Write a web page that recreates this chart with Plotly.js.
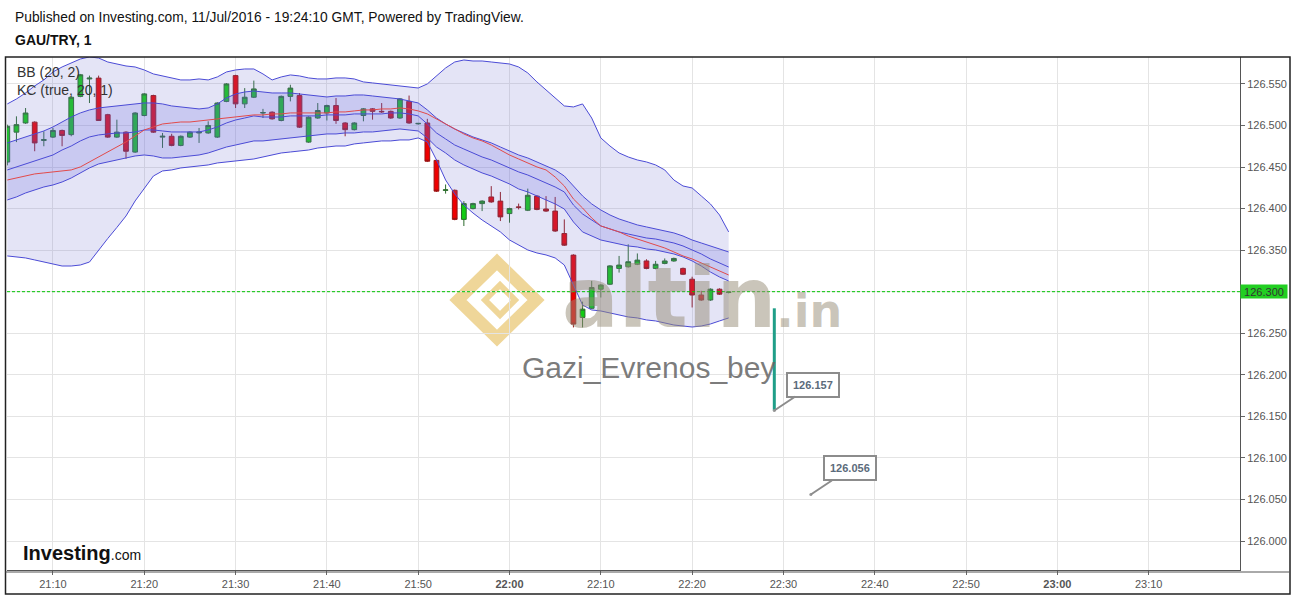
<!DOCTYPE html>
<html><head><meta charset="utf-8">
<script src="https://cdn.plot.ly/plotly-3.0.1.min.js"></script>
<style>html,body{margin:0;padding:0;background:#fff;}#chart{width:1297px;height:596px;}</style>
</head><body><div id="chart"></div>
<script>
const day = '2016-07-11 ';
const times = ['21:05','21:06','21:07','21:08','21:09','21:10','21:11','21:12','21:13','21:14',
'21:15','21:16','21:17','21:18','21:19','21:20','21:21','21:22','21:23','21:24',
'21:25','21:26','21:27','21:28','21:29','21:30','21:31','21:32','21:33','21:34',
'21:35','21:36','21:37','21:38','21:39','21:40','21:41','21:42','21:43','21:44',
'21:45','21:46','21:47','21:48','21:49','21:50','21:51','21:52','21:53','21:54',
'21:55','21:56','21:57','21:58','21:59','22:00','22:01','22:02','22:03','22:04',
'22:05','22:06','22:07','22:08','22:09','22:10','22:11','22:12','22:13','22:14',
'22:15','22:16','22:17','22:18','22:19','22:20','22:21','22:22','22:23','22:24'];
const open = [126.456,126.492,126.503,126.504,126.482,126.486,126.494,126.489,126.535,126.556,
126.557,126.513,126.486,126.492,126.468,126.512,126.536,126.486,126.487,126.476,
126.486,126.491,126.491,126.486,126.529,126.560,126.526,126.534,126.515,126.516,
126.506,126.535,126.536,126.480,126.509,126.515,126.524,126.503,126.495,126.512,
126.520,126.517,126.517,126.509,126.529,126.502,126.503,126.458,126.422,126.422,
126.387,126.400,126.406,126.414,126.409,126.394,126.402,126.398,126.415,126.3995,
126.397,126.370,126.344,126.269,126.280,126.303,126.309,126.328,126.330,126.333,
126.337,126.328,126.334,126.337,126.328,126.315,126.296,126.290,126.303,126.299];
const high = [126.501,126.511,126.521,126.505,126.493,126.497,126.495,126.535,126.562,126.560,
126.560,126.514,126.507,126.493,126.516,126.539,126.537,126.491,126.490,126.488,
126.493,126.497,126.505,126.528,126.551,126.561,126.545,126.554,126.520,126.517,
126.536,126.549,126.539,126.511,126.527,126.525,126.533,126.504,126.504,126.521,
126.521,126.527,126.518,126.533,126.536,126.503,126.508,126.459,126.429,126.423,
126.409,126.407,126.410,126.427,126.420,126.401,126.406,126.424,126.416,126.415,
126.414,126.387,126.345,126.288,126.313,126.309,126.332,126.343,126.357,126.346,
126.339,126.337,126.340,126.341,126.329,126.318,126.301,126.304,126.304,126.300];
const low = [126.452,126.480,126.502,126.469,126.475,126.485,126.475,126.487,126.534,126.527,
126.506,126.485,126.485,126.460,126.467,126.511,126.491,126.473,126.475,126.475,
126.485,126.479,126.490,126.485,126.528,126.521,126.521,126.533,126.509,126.507,
126.505,126.529,126.497,126.479,126.508,126.506,126.502,126.487,126.494,126.505,
126.507,126.515,126.508,126.508,126.502,126.501,126.456,126.420,126.418,126.386,
126.379,126.399,126.397,126.407,126.385,126.383,126.399,126.397,126.398,126.396,
126.372,126.355,126.257,126.257,126.279,126.293,126.308,126.323,126.329,126.332,
126.327,126.327,126.333,126.336,126.320,126.281,126.289,126.289,126.296,126.298];
const close = [126.499,126.501,126.515,126.479,126.483,126.494,126.488,126.534,126.561,126.557,
126.506,126.486,126.492,126.469,126.515,126.538,126.492,126.487,126.476,126.487,
126.492,126.492,126.500,126.527,126.550,126.526,126.534,126.544,126.5155,126.508,
126.535,126.545,126.498,126.510,126.518,126.524,126.506,126.495,126.503,126.520,
126.517,126.5165,126.509,126.532,126.503,126.5025,126.457,126.421,126.4225,126.387,
126.406,126.406,126.409,126.408,126.390,126.400,126.4015,126.416,126.399,126.397,
126.373,126.356,126.261,126.279,126.305,126.308,126.331,126.332,126.336,126.338,
126.328,126.333,126.337,126.340,126.321,126.296,126.290,126.303,126.297,126.2995];

// Bollinger Bands (20, 2)
const bbUpper = [126.5259,126.5319,126.5391,126.5476,126.5548,126.5644,126.5704,126.5752,126.5800,126.5825,
126.5812,126.5764,126.5740,126.5716,126.5704,126.5668,126.5620,126.5596,126.5572,126.5548,
126.5548,126.5560,126.5548,126.5584,126.5644,126.5668,126.5680,126.5680,126.5620,126.5548,
126.5584,126.5608,126.5596,126.5572,126.5560,126.5560,126.5572,126.5572,126.5560,126.5524,
126.5512,126.5500,126.5488,126.5476,126.5463,126.5451,126.5500,126.5596,126.5692,126.5764,
126.5788,126.5776,126.5776,126.5764,126.5752,126.5740,126.5704,126.5632,126.5524,126.5427,
126.5331,126.5235,126.5223,126.5259,126.5090,126.4850,126.4753,126.4669,126.4621,126.4585,
126.4561,126.4525,126.4465,126.4344,126.4272,126.4248,126.4152,126.4056,126.3923,126.3719];
const bbBasis = [126.4344,126.4368,126.4392,126.4417,126.4429,126.4441,126.4453,126.4465,126.4501,126.4561,
126.4621,126.4681,126.4741,126.4802,126.4874,126.4946,126.4982,126.5018,126.5030,126.5042,
126.5042,126.5054,126.5066,126.5078,126.5090,126.5102,126.5115,126.5127,126.5127,126.5139,
126.5139,126.5151,126.5151,126.5151,126.5151,126.5151,126.5163,126.5163,126.5175,126.5187,
126.5187,126.5199,126.5199,126.5211,126.5199,126.5175,126.5139,126.5078,126.5018,126.4958,
126.4898,126.4850,126.4814,126.4765,126.4705,126.4645,126.4597,126.4549,126.4501,126.4465,
126.4380,126.4272,126.4116,126.4007,126.3887,126.3791,126.3755,126.3719,126.3670,126.3634,
126.3598,126.3562,126.3526,126.3478,126.3430,126.3394,126.3345,126.3297,126.3249,126.3201];
const bbLower = [126.3430,126.3418,126.3406,126.3382,126.3358,126.3333,126.3309,126.3309,126.3321,126.3357,
126.3502,126.3640,126.3773,126.3911,126.4092,126.4248,126.4392,126.4453,126.4465,126.4489,
126.4501,126.4513,126.4525,126.4549,126.4561,126.4573,126.4585,126.4597,126.4621,126.4645,
126.4669,126.4681,126.4693,126.4705,126.4729,126.4741,126.4753,126.4753,126.4778,126.4790,
126.4802,126.4814,126.4814,126.4826,126.4826,126.4850,126.4802,126.4585,126.4344,126.4176,
126.4043,126.3947,126.3863,126.3791,126.3719,126.3622,126.3562,126.3502,126.3466,126.3442,
126.3406,126.3321,126.3081,126.2840,126.2780,126.2768,126.2744,126.2720,126.2696,126.2684,
126.2660,126.2648,126.2623,126.2599,126.2587,126.2575,126.2587,126.2611,126.2648,126.2684];
// Keltner Channels (true, 20, 1)
const kcUpper = [126.4790,126.4826,126.4862,126.4898,126.4934,126.4982,126.5042,126.5102,126.5151,126.5187,
126.5211,126.5223,126.5235,126.5247,126.5259,126.5271,126.5271,126.5259,126.5235,126.5223,
126.5211,126.5199,126.5211,126.5259,126.5331,126.5379,126.5403,126.5415,126.5403,126.5391,
126.5391,126.5391,126.5379,126.5367,126.5355,126.5343,126.5355,126.5355,126.5367,126.5367,
126.5355,126.5343,126.5331,126.5319,126.5295,126.5271,126.5187,126.5090,126.5018,126.4958,
126.4910,126.4862,126.4826,126.4790,126.4741,126.4693,126.4645,126.4609,126.4561,126.4513,
126.4465,126.4392,126.4272,126.4152,126.4056,126.3983,126.3923,126.3875,126.3839,126.3803,
126.3779,126.3755,126.3731,126.3707,126.3670,126.3622,126.3586,126.3550,126.3514,126.3478];
const kcBasis = [126.4465,126.4501,126.4537,126.4573,126.4609,126.4645,126.4705,126.4753,126.4814,126.4862,
126.4886,126.4898,126.4910,126.4910,126.4922,126.4946,126.4946,126.4934,126.4922,126.4922,
126.4922,126.4922,126.4946,126.4982,126.5030,126.5066,126.5090,126.5115,126.5102,126.5102,
126.5102,126.5115,126.5115,126.5115,126.5115,126.5127,126.5127,126.5127,126.5139,126.5139,
126.5139,126.5139,126.5151,126.5151,126.5139,126.5115,126.5018,126.4910,126.4838,126.4765,
126.4717,126.4669,126.4621,126.4585,126.4537,126.4489,126.4441,126.4404,126.4356,126.4308,
126.4260,126.4200,126.4043,126.3935,126.3863,126.3791,126.3755,126.3719,126.3694,126.3670,
126.3646,126.3634,126.3610,126.3586,126.3550,126.3502,126.3454,126.3394,126.3345,126.3297];
const kcLower = [126.4104,126.4140,126.4188,126.4224,126.4260,126.4284,126.4320,126.4368,126.4429,126.4489,
126.4537,126.4561,126.4585,126.4609,126.4633,126.4645,126.4633,126.4609,126.4609,126.4621,
126.4633,126.4645,126.4669,126.4705,126.4741,126.4765,126.4790,126.4814,126.4814,126.4826,
126.4838,126.4850,126.4862,126.4874,126.4886,126.4898,126.4898,126.4910,126.4910,126.4922,
126.4922,126.4934,126.4946,126.4958,126.4946,126.4934,126.4850,126.4741,126.4669,126.4585,
126.4525,126.4477,126.4429,126.4392,126.4344,126.4296,126.4236,126.4200,126.4152,126.4104,
126.4056,126.3995,126.3839,126.3719,126.3670,126.3622,126.3598,126.3574,126.3550,126.3538,
126.3514,126.3502,126.3478,126.3454,126.3418,126.3370,126.3309,126.3237,126.3177,126.3129];

const lastPrice = 126.300;
const lineTimes = ['22:29','22:29'];
const lineValues = [126.280, 126.157];
const calloutTimes = ['22:29','22:33'];
const calloutValues = [126.157, 126.056];
const xTickTimes = ['21:10','21:20','21:30','21:40','21:50','22:00','22:10','22:20','22:30','22:40','22:50','23:00','23:10'];
const xTickLabels = ['21:10','21:20','21:30','21:40','21:50','<b>22:00</b>','22:10','22:20','22:30','22:40','22:50','<b>23:00</b>','23:10'];
const yTicks = [126.000,126.050,126.100,126.150,126.200,126.250,126.300,126.350,126.400,126.450,126.500,126.550];

const FONT = 'Arial, "Liberation Sans", sans-serif';
const X = times.map(t => day + t);
const L = 7, R = 1240, T = 57, B = 570;
const px = v => (v - L) / (R - L);
const py = v => (B - v) / (B - T);

const bandLine = {color:'#4b4bd6', width:1};
const traces = [
  {type:'scatter', mode:'lines', x:X, y:bbLower, line:bandLine, hoverinfo:'skip'},
  {type:'scatter', mode:'lines', x:X, y:bbUpper, line:bandLine, fill:'tonexty', fillcolor:'rgba(120,120,210,0.2)', hoverinfo:'skip'},
  {type:'scatter', mode:'lines', x:X, y:kcLower, line:bandLine, hoverinfo:'skip'},
  {type:'scatter', mode:'lines', x:X, y:kcUpper, line:bandLine, fill:'tonexty', fillcolor:'rgba(95,95,225,0.2)', hoverinfo:'skip'},
  {type:'scatter', mode:'lines', x:X, y:kcBasis, line:{color:'#4b4bd6', width:1}, hoverinfo:'skip'},
  {type:'scatter', mode:'lines', x:X, y:bbBasis, line:{color:'#e24a4a', width:1}, hoverinfo:'skip'},
  {type:'candlestick', x:X, open:open, high:high, low:low, close:close,
   increasing:{line:{color:'#2b6a2b', width:1}, fillcolor:'#12cc12'},
   decreasing:{line:{color:'#951414', width:1}, fillcolor:'#ee0000'},
   whiskerwidth:0, hoverinfo:'skip'},
  {type:'scatter', mode:'lines', x:lineTimes.map(t=>day+t), y:lineValues, line:{color:'#1f9e88', width:3}, hoverinfo:'skip'},
  {type:'scatter', mode:'markers', x:calloutTimes.map(t=>day+t), y:calloutValues, marker:{color:'#9a9a9a', size:3}, hoverinfo:'skip'}
];

const callouts = calloutTimes.map((t,i) => ({
  x: day+t, y: calloutValues[i], xref:'x', yref:'y',
  text: '<b>' + calloutValues[i].toFixed(3) + '</b>',
  showarrow:true, arrowhead:0, arrowwidth:2, arrowcolor:'#8c8c8c',
  ax:39, ay:-26, bgcolor:'#ffffff', bordercolor:'#8c8c8c', borderwidth:2, borderpad:5,
  font:{family:FONT, size:11, color:'#5b6b7b'}
}));

const layout = {
  width:1297, height:596,
  margin:{l:L, r:1297-R, t:T, b:596-B, pad:0},
  paper_bgcolor:'#ffffff', plot_bgcolor:'#ffffff',
  showlegend:false, hovermode:false, dragmode:false, boxgap:0.26,
  font:{family:FONT, size:11, color:'#555'},
  xaxis:{type:'date', range:[day+'21:04:58', day+'23:20:00'],
    tickmode:'array', tickvals:xTickTimes.map(t=>day+t), ticktext:xTickLabels,
    showgrid:true, gridcolor:'#e4e4e4', gridwidth:1, zeroline:false,
    ticks:'outside', ticklen:4, tickcolor:'#666', showline:true, linecolor:'#555', linewidth:1,
    tickfont:{family:FONT, size:11, color:'#555'}, rangeslider:{visible:false}, fixedrange:true},
  yaxis:{side:'right', range:[125.9651, 126.5824], tickmode:'array', tickvals:yTicks,
    ticktext:yTicks.map(v=>v === lastPrice ? '' : v.toFixed(3)), showgrid:true, gridcolor:'#e4e4e4', zeroline:false,
    ticks:'outside', ticklen:4, tickcolor:'#666', showline:true, linecolor:'#555', linewidth:1,
    tickfont:{family:FONT, size:11, color:'#555'}, fixedrange:true},
  shapes:[
    {type:'line', xref:'paper', yref:'y', x0:0, x1:1, y0:lastPrice, y1:lastPrice, line:{color:'#00c400', width:1, dash:'3px,2px'}},
    {type:'rect', xref:'paper', yref:'paper', x0:px(5.5), x1:px(1290), y0:py(594), y1:py(57), line:{color:'#222', width:1.5}, fillcolor:'rgba(0,0,0,0)'},
    {type:'line', xref:'paper', yref:'paper', x0:px(5.5), x1:px(1290), y0:py(572), y1:py(572), line:{color:'#555', width:1}},
    // altin.in logo (gold)
    {type:'path', xref:'paper', yref:'paper', layer:'below',
     path:'M '+px(458)+' '+py(300)+' L '+px(497)+' '+py(262)+' L '+px(536)+' '+py(300)+' L '+px(497)+' '+py(338)+' Z',
     line:{color:'rgba(232,196,110,0.7)', width:12}, fillcolor:'rgba(0,0,0,0)'},
    {type:'path', xref:'paper', yref:'paper', layer:'below',
     path:'M '+px(485)+' '+py(300)+' L '+px(500)+' '+py(285)+' L '+px(515)+' '+py(300)+' L '+px(500)+' '+py(315)+' Z',
     line:{color:'rgba(232,196,110,0.7)', width:6}, fillcolor:'rgba(0,0,0,0)'}
  ],
  annotations:[
    {xref:'paper', yref:'paper', x:px(13), y:py(17), xanchor:'left', yanchor:'middle', showarrow:false,
     text:'Published on Investing.com, 11/Jul/2016 - 19:24:10 GMT, Powered by TradingView.', font:{family:FONT, size:13.8, color:'#111'}},
    {xref:'paper', yref:'paper', x:px(13), y:py(40), xanchor:'left', yanchor:'middle', showarrow:false,
     text:'<b>GAU/TRY, 1</b>', font:{family:FONT, size:14, color:'#111'}},
    {xref:'paper', yref:'paper', x:px(15), y:py(72), xanchor:'left', yanchor:'middle', showarrow:false,
     text:'BB (20, 2)', font:{family:FONT, size:14, color:'#333'}},
    {xref:'paper', yref:'paper', x:px(15), y:py(90), xanchor:'left', yanchor:'middle', showarrow:false,
     text:'KC (true, 20, 1)', font:{family:FONT, size:14, color:'#333'}},
    {xref:'paper', yref:'paper', x:px(560), y:py(298), xanchor:'left', yanchor:'middle', showarrow:false,
     text:'<b>altin<span style="font-size:46px">.in</span></b>', font:{family:'"DejaVu Sans", sans-serif', size:84, color:'rgba(150,140,118,0.5)'}},
    {xref:'paper', yref:'paper', x:px(648), y:py(367), xanchor:'center', yanchor:'middle', showarrow:false,
     text:'Gazi_Evrenos_bey', font:{family:FONT, size:30, color:'rgba(100,100,100,0.85)'}},
    {xref:'paper', yref:'paper', x:px(21), y:py(553), xanchor:'left', yanchor:'middle', showarrow:false,
     text:'<b>Investing</b><span style="font-size:14px">.com</span>', font:{family:FONT, size:20, color:'#111'}},
    {xref:'paper', yref:'y', x:1, y:lastPrice, xanchor:'left', yanchor:'middle', showarrow:false,
     text:lastPrice.toFixed(3), bgcolor:'#22cf22', width:46, height:13, borderpad:0,
     font:{family:FONT, size:11, color:'#333'}}
  ].concat(callouts)
};

Plotly.newPlot('chart', traces, layout, {displayModeBar:false, staticPlot:true});
</script>
</body></html>
